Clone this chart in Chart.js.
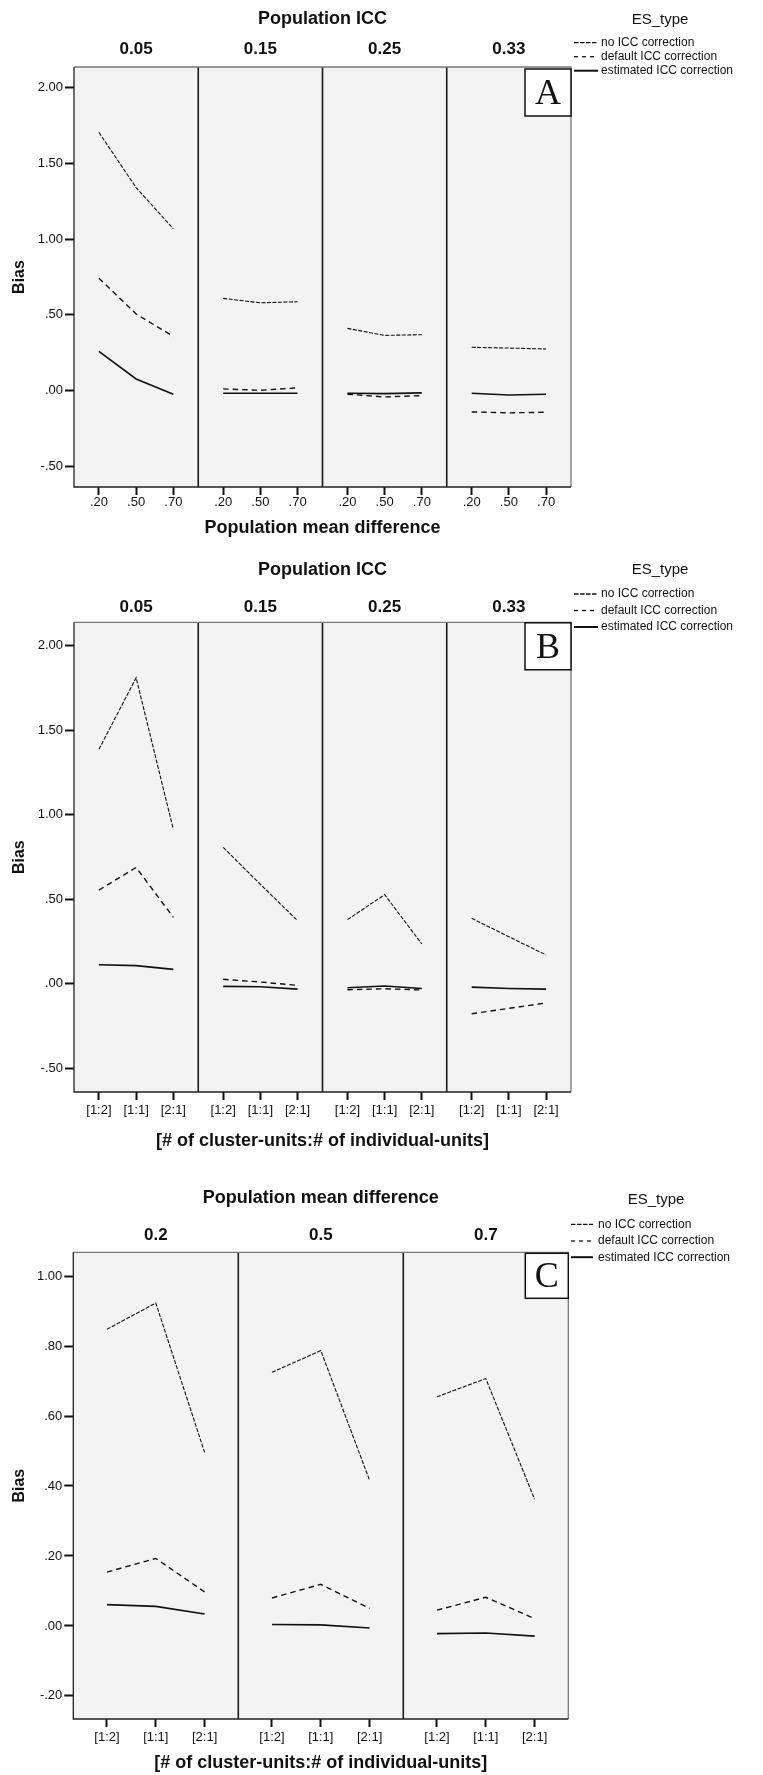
<!DOCTYPE html>
<html>
<head>
<meta charset="utf-8">
<title>Bias by ES type</title>
<style>
* {
  margin: 0;
  padding: 0;
}
body {
  background: #fff;
  width: 763px;
  height: 1775px;
  overflow: hidden;
}
canvas {
  display: block;
}
</style>
</head>
<body>
<canvas id="chartA" width="763" height="550"></canvas>
<canvas id="chartB" width="763" height="610"></canvas>
<canvas id="chartC" width="763" height="615"></canvas>
<script src="https://cdn.jsdelivr.net/npm/chart.js"></script>
<script>
// ---- data ----
const esTypes = ['no ICC correction', 'default ICC correction', 'estimated ICC correction'];
const iccLevels = ['0.05', '0.15', '0.25', '0.33'];
const meanDiffLevels = ['0.2', '0.5', '0.7'];
const meanDiffTicks = ['.20', '.50', '.70'];
const ratioTicks = ['[1:2]', '[1:1]', '[2:1]'];
const biasTicksAB = [-0.5, 0, 0.5, 1, 1.5, 2];
const biasTicksC = [-0.2, 0, 0.2, 0.4, 0.6, 0.8, 1];

// A: ICC panels x mean difference (3 values per panel)
const aNoCorr    = [1.706, 1.341, 1.069, 0.609, 0.580, 0.587, 0.411, 0.365, 0.369, 0.286, 0.281, 0.275];
const aDefault   = [0.743, 0.506, 0.358, 0.011, 0.002, 0.018, -0.024, -0.042, -0.033, -0.141, -0.147, -0.143];
const aEstimated = [0.259, 0.077, -0.024, -0.018, -0.018, -0.018, -0.018, -0.020, -0.015, -0.018, -0.029, -0.024];

// B: ICC panels x cluster:individual ratio
const bNoCorr    = [1.387, 1.811, 0.913, 0.807, 0.588, 0.373, 0.379, 0.527, 0.235, 0.387, 0.278, 0.170];
const bDefault   = [0.554, 0.688, 0.393, 0.026, 0.010, -0.010, -0.036, -0.030, -0.037, -0.178, -0.146, -0.114];
const bEstimated = [0.112, 0.107, 0.085, -0.016, -0.018, -0.032, -0.024, -0.014, -0.028, -0.020, -0.028, -0.032];

// C: mean difference panels x cluster:individual ratio
const cNoCorr    = [0.848, 0.923, 0.496, 0.725, 0.787, 0.416, 0.655, 0.707, 0.362];
const cDefault   = [0.154, 0.193, 0.097, 0.080, 0.119, 0.050, 0.045, 0.082, 0.021];
const cEstimated = [0.061, 0.056, 0.034, 0.004, 0.003, -0.006, -0.022, -0.020, -0.029];

// ---- styles ----
Chart.defaults.font.family = '"Liberation Sans", Arial, sans-serif';
Chart.defaults.color = '#111';

const lineStyles = [
  { borderDash: [4, 1.5], borderWidth: 1.1 },
  { borderDash: [5.5, 4], borderWidth: 1.4 },
  { borderDash: [], borderWidth: 1.6 }
];

function fmtBias(v) {
  return v.toFixed(2).replace(/^(-?)0\./, '$1.');
}

function panelPoints(values, nPanels, pad, width) {
  const pts = [];
  for (let p = 0; p < nPanels; p++) {
    for (let i = 0; i < 3; i++) {
      pts.push({ x: p * width + pad + i, y: values[p * 3 + i] });
    }
    pts.push({ x: (p + 1) * width, y: null }); // break line between panels
  }
  return pts;
}

// background, panel dividers, letter box, headers and legend
const facetPlugin = {
  id: 'facets',
  beforeDraw(chart) {
    const { ctx, chartArea: a } = chart;
    ctx.save();
    ctx.fillStyle = '#f3f3f3';
    ctx.fillRect(a.left, a.top, a.right - a.left, a.bottom - a.top);
    ctx.restore();
  },
  afterDatasetsDraw(chart, args, o) {
    const { ctx, chartArea: a, scales: { x } } = chart;
    ctx.save();
    // dividers
    ctx.strokeStyle = '#1a1a1a';
    ctx.lineWidth = 1.6;
    for (let p = 1; p < o.headers.length; p++) {
      const px = x.getPixelForValue(p * o.width);
      ctx.beginPath();
      ctx.moveTo(px, a.top);
      ctx.lineTo(px, a.bottom);
      ctx.stroke();
    }
    // frame
    ctx.lineWidth = 1.3;
    ctx.strokeStyle = '#777';
    ctx.beginPath();
    ctx.moveTo(a.left, a.top);
    ctx.lineTo(a.right, a.top);
    ctx.lineTo(a.right, a.bottom);
    ctx.stroke();
    ctx.strokeStyle = '#222';
    ctx.beginPath();
    ctx.moveTo(a.left, a.top);
    ctx.lineTo(a.left, a.bottom);
    ctx.lineTo(a.right, a.bottom);
    ctx.stroke();
    // letter box
    const bw = o.letterBox.w, bh = o.letterBox.h;
    const bx = a.right - bw, by = a.top + o.letterBox.dy;
    ctx.fillStyle = '#fff';
    ctx.fillRect(bx, by, bw, bh);
    ctx.strokeStyle = '#111';
    ctx.lineWidth = 1.5;
    ctx.strokeRect(bx, by, bw, bh);
    ctx.fillStyle = '#111';
    ctx.font = '36px "Liberation Serif", "Times New Roman", serif';
    ctx.textAlign = 'center';
    ctx.textBaseline = 'middle';
    ctx.fillText(o.letter, bx + bw / 2, by + bh / 2 + 2);
    ctx.restore();
  },
  afterDraw(chart, args, o) {
    const { ctx, chartArea: a, scales: { x } } = chart;
    ctx.save();
    ctx.fillStyle = '#111';
    ctx.textAlign = 'center';
    ctx.textBaseline = 'middle';
    ctx.font = 'bold 18px "Liberation Sans", Arial, sans-serif';
    ctx.fillText(o.title, (a.left + a.right) / 2, o.titleY);
    ctx.font = 'bold 17px "Liberation Sans", Arial, sans-serif';
    o.headers.forEach((h, p) => {
      ctx.fillText(h, x.getPixelForValue(p * o.width + o.width / 2), o.headerY);
    });
    // legend
    const lg = o.legend;
    ctx.font = '15px "Liberation Sans", Arial, sans-serif';
    ctx.fillText('ES_type', lg.titleX, lg.titleY);
    ctx.font = '12px "Liberation Sans", Arial, sans-serif';
    ctx.textAlign = 'left';
    esTypes.forEach((name, k) => {
      const y = lg.rows[k];
      ctx.strokeStyle = '#111';
      ctx.lineWidth = k === 2 ? 2 : 1.3;
      ctx.setLineDash(k === 0 ? [4.5, 1.5] : k === 1 ? [4, 4] : []);
      ctx.beginPath();
      ctx.moveTo(lg.x0, y);
      ctx.lineTo(lg.x1, y);
      ctx.stroke();
      ctx.fillText(name, lg.textX, y);
    });
    ctx.restore();
  }
};

function facetChart(id, f) {
  const n = f.headers.length;
  const tickVals = [];
  for (let p = 0; p < n; p++) {
    for (let i = 0; i < 3; i++) tickVals.push(p * f.width + f.pad + i);
  }
  const datasets = f.series.map((vals, k) => Object.assign({
    label: esTypes[k],
    data: panelPoints(vals, n, f.pad, f.width),
    borderColor: '#111',
    backgroundColor: '#111',
    pointRadius: 0,
    tension: 0,
    spanGaps: false,
    fill: false
  }, lineStyles[k]));

  return new Chart(document.getElementById(id), {
    type: 'line',
    data: { datasets },
    plugins: [facetPlugin],
    options: {
      responsive: false,
      animation: false,
      layout: { padding: { top: f.top, right: 763 - f.right, left: 0, bottom: 0 } },
      plugins: {
        legend: { display: false },
        tooltip: { enabled: false },
        facets: {
          headers: f.headers, width: f.width, title: f.title, titleY: f.titleY,
          headerY: f.headerY, letter: f.letter, letterBox: f.letterBox, legend: f.legend
        }
      },
      scales: {
        x: {
          type: 'linear',
          min: 0,
          max: n * f.width,
          afterBuildTicks: s => { s.ticks = tickVals.map(v => ({ value: v })); },
          afterFit: s => { s.height = f.xAxisH; },
          ticks: {
            autoSkip: false,
            maxRotation: 0,
            padding: f.xTickPad,
            font: { size: 13 },
            callback: (v, i) => f.xLabels[i % 3]
          },
          grid: { drawOnChartArea: false, drawTicks: true, tickLength: 8, tickWidth: 2, tickColor: '#111' },
          border: { display: false },
          title: {
            display: true, text: f.xTitle,
            font: { size: 18, weight: 'bold' },
            padding: { top: 0, bottom: f.xTitlePad }
          }
        },
        y: {
          type: 'linear',
          min: f.yMin,
          max: f.yMax,
          afterBuildTicks: s => { s.ticks = f.yTicks.map(v => ({ value: v })); },
          afterFit: s => { s.width = f.left; },
          ticks: { padding: 2, font: { size: 13 }, callback: v => fmtBias(v) },
          grid: { drawOnChartArea: false, drawTicks: true, tickLength: 9, tickWidth: 2, tickColor: '#111' },
          border: { display: false },
          title: {
            display: true, text: 'Bias',
            font: { size: 16, weight: 'bold' },
            padding: { top: 10, bottom: 0 }
          }
        }
      }
    }
  });
}

facetChart('chartA', {
  headers: iccLevels, xLabels: meanDiffTicks,
  series: [aNoCorr, aDefault, aEstimated],
  yMin: -0.637, yMax: 2.138, yTicks: biasTicksAB,
  width: 3.34, pad: 0.67,
  left: 74, right: 571, top: 67, xAxisH: 63, xTickPad: 0, xTitlePad: 11,
  title: 'Population ICC', titleY: 19, headerY: 49,
  xTitle: 'Population mean difference',
  letter: 'A', letterBox: { w: 46, h: 47, dy: 2 },
  legend: { titleX: 660, titleY: 20, rows: [42.7, 56.7, 70.7], x0: 574, x1: 598, textX: 601 }
});

facetChart('chartB', {
  headers: iccLevels, xLabels: ratioTicks,
  series: [bNoCorr, bDefault, bEstimated],
  yMin: -0.641, yMax: 2.139, yTicks: biasTicksAB,
  width: 3.34, pad: 0.67,
  left: 74, right: 571, top: 72.3, xAxisH: 68, xTickPad: 3, xTitlePad: 8,
  title: 'Population ICC', titleY: 20, headerY: 57,
  xTitle: '[# of cluster-units:# of individual-units]',
  letter: 'B', letterBox: { w: 46, h: 47, dy: 0.5 },
  legend: { titleX: 660, titleY: 19.5, rows: [44, 60.5, 77], x0: 574, x1: 598, textX: 601 }
});

facetChart('chartC', {
  headers: meanDiffLevels, xLabels: ratioTicks,
  series: [cNoCorr, cDefault, cEstimated],
  yMin: -0.266, yMax: 1.068, yTicks: biasTicksC,
  width: 3.38, pad: 0.69,
  left: 73.3, right: 568.3, top: 92.3, xAxisH: 56, xTickPad: 2.5, xTitlePad: 1,
  title: 'Population mean difference', titleY: 38, headerY: 75,
  xTitle: '[# of cluster-units:# of individual-units]',
  letter: 'C', letterBox: { w: 43, h: 45, dy: 1 },
  legend: { titleX: 656, titleY: 39.7, rows: [64.4, 81, 97.2], x0: 571, x1: 593, textX: 598 }
});
</script>
</body>
</html>
